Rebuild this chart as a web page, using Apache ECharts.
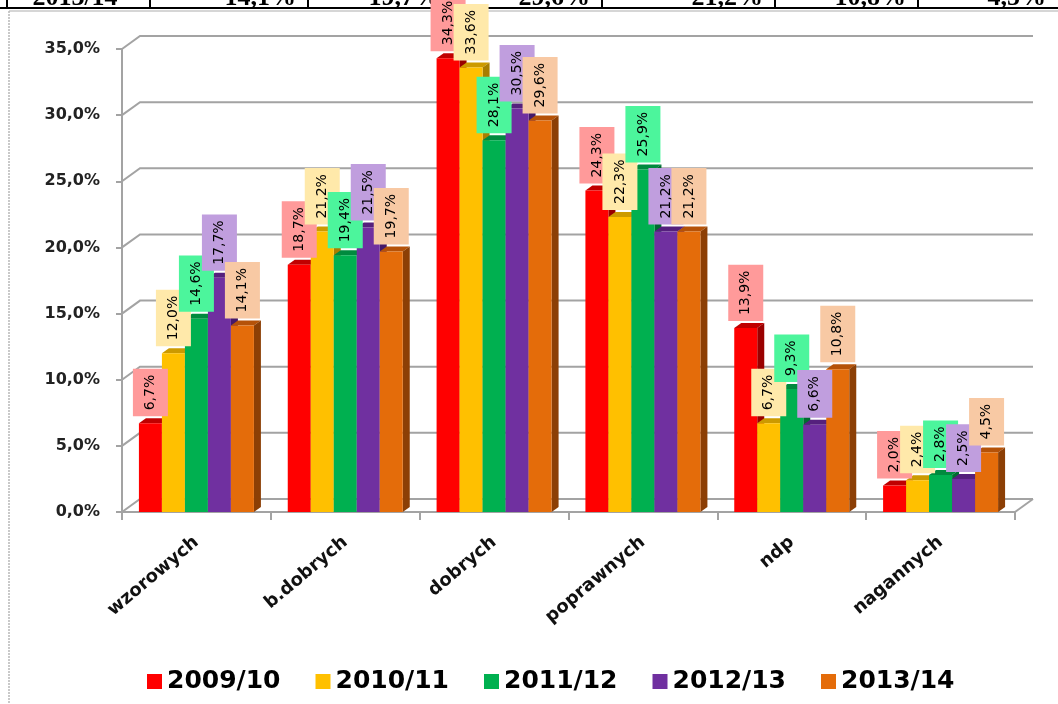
<!DOCTYPE html>
<html>
<head>
<meta charset="utf-8">
<script src="https://cdn.jsdelivr.net/npm/echarts@6/dist/echarts.min.js"></script>
<style>
  html, body { margin: 0; padding: 0; background: #fff; }
  #chart { width: 1058px; height: 704px; }
</style>
</head>
<body>
<div id="chart"></div>
<script>
var categories = ["wzorowych", "b.dobrych", "dobrych", "poprawnych", "ndp", "nagannych"];
var years = ["2009/10", "2010/11", "2011/12", "2012/13", "2013/14"];
var y2009 = [6.7, 18.7, 34.3, 24.3, 13.9, 2.0];
var y2010 = [12.0, 21.2, 33.6, 22.3, 6.7, 2.4];
var y2011 = [14.6, 19.4, 28.1, 25.9, 9.3, 2.8];
var y2012 = [17.7, 21.5, 30.5, 21.2, 6.6, 2.5];
var y2013 = [14.1, 19.7, 29.6, 21.2, 10.8, 4.5];
var yTicks = [0, 5, 10, 15, 20, 25, 30, 35];

var allValues = [y2009, y2010, y2011, y2012, y2013];
var barColors = ["#ff0000", "#ffc000", "#00b050", "#7030a0", "#e46c0a"];
var topColors = ["#c00000", "#cc9a00", "#008a3e", "#55207d", "#b55208"];
var sideColors = ["#9a0000", "#a87e00", "#006c30", "#44196a", "#8c3f05"];
var labelBg = ["#ff9a9a", "#ffe9aa", "#4cf59c", "#c09ede", "#f8c9a4"];

var BAR_W = 23;
var DEPTH_X = 7, DEPTH_Y = 5;
var WALL_X = 18, WALL_Y = 13;

function pct(v) {
  return v.toFixed(1).replace(".", ",") + "%";
}

var myChart = echarts.init(document.getElementById("chart"));

// tylna sciana + podloga (pseudo 3D)
function renderWall(params, api) {
  var v = api.value(1);
  var cs = params.coordSys;
  var y = api.coord([0, v])[1];
  var x0 = cs.x, x1 = cs.x + cs.width;
  var kids = [{
    type: "polyline",
    shape: { points: [[x0, y], [x0 + WALL_X, y - WALL_Y], [x1 + WALL_X, y - WALL_Y]] },
    style: { stroke: "#a3a3a3", lineWidth: 2, fill: null }
  }];
  if (v === 0) {
    kids.push({
      type: "line",
      shape: { x1: x1, y1: y, x2: x1 + WALL_X, y2: y - WALL_Y },
      style: { stroke: "#a3a3a3", lineWidth: 2 }
    });
  }
  return { type: "group", children: kids };
}

// gorna i boczna sciana slupka
function makeFaces(i) {
  return function (params, api) {
    var c = api.value(0), v = api.value(1);
    var p = api.coord([c, v]);
    var base = api.coord([c, 0])[1];
    var cx = p[0] + (i - 2) * BAR_W;
    var l = cx - BAR_W / 2, r = cx + BAR_W / 2, t = p[1];
    return {
      type: "group",
      children: [
        {
          type: "polygon",
          shape: { points: [[l, t], [r, t], [r + DEPTH_X, t - DEPTH_Y], [l + DEPTH_X, t - DEPTH_Y]] },
          style: { fill: topColors[i] }
        },
        {
          type: "polygon",
          shape: { points: [[r, t], [r + DEPTH_X, t - DEPTH_Y], [r + DEPTH_X, base - DEPTH_Y], [r, base]] },
          style: { fill: sideColors[i] }
        }
      ]
    };
  };
}

var series = [{
  type: "custom",
  z: 1,
  silent: true,
  renderItem: renderWall,
  encode: { x: 0, y: 1 },
  data: yTicks.map(function (v) { return [0, v]; })
}];

allValues.forEach(function (vals, i) {
  series.push({
    type: "custom",
    z: 2,
    silent: true,
    renderItem: makeFaces(i),
    encode: { x: 0, y: 1 },
    data: vals.map(function (v, c) { return [c, v]; })
  });
});

allValues.forEach(function (vals, i) {
  series.push({
    name: years[i],
    type: "bar",
    z: 3,
    barWidth: BAR_W,
    barGap: "0%",
    itemStyle: { color: barColors[i] },
    label: {
      show: true,
      position: "top",
      distance: 7,
      rotate: 90,
      align: "left",
      verticalAlign: "middle",
      color: "#000",
      fontFamily: "DejaVu Sans",
      fontSize: 14,
      lineHeight: 17,
      backgroundColor: labelBg[i],
      padding: [9, 6, 9, 6],
      formatter: function (p) { return pct(p.value); }
    },
    data: vals
  });
});

// fragment tabeli nad wykresem (wiersz 2013/14)
var colEdges = [7, 150, 308, 452, 602, 775, 918, 1058];
var tableTexts = [{
  type: "text", x: 75, y: 11,
  style: { text: years[4], font: "bold 26px 'Liberation Serif'", fill: "#000", align: "center", verticalAlign: "bottom" }
}];
y2013.forEach(function (v, k) {
  tableTexts.push({
    type: "text", x: colEdges[k + 2] - 12, y: 11,
    style: { text: pct(v), font: "bold 26px 'Liberation Serif'", fill: "#000", align: "right", verticalAlign: "bottom" }
  });
});
var tableLines = [
  { type: "rect", shape: { x: 0, y: 8, width: 1058, height: 20 }, style: { fill: "#fff" } },
  { type: "line", shape: { x1: 0, y1: 8, x2: 1058, y2: 8 }, style: { stroke: "#000", lineWidth: 2 } }
];
colEdges.slice(0, 7).forEach(function (x) {
  tableLines.push({ type: "line", shape: { x1: x, y1: 0, x2: x, y2: 8 }, style: { stroke: "#000", lineWidth: 2 } });
});

myChart.setOption({
  backgroundColor: "#fff",
  animation: false,
  graphic: tableTexts.concat(tableLines).concat([
    { type: "line", shape: { x1: 9, y1: 11, x2: 1058, y2: 11 }, style: { stroke: "#c8c8c8", lineWidth: 1.5 } },
    { type: "line", shape: { x1: 9, y1: 11, x2: 9, y2: 704 }, style: { stroke: "#b8b8b8", lineWidth: 1.5, lineDash: [2, 1] } }
  ]),
  legend: {
    data: years,
    left: 142,
    top: 664,
    icon: "rect",
    itemWidth: 15,
    itemHeight: 15,
    itemGap: 35,
    textStyle: { color: "#000", fontFamily: "DejaVu Sans", fontWeight: "bold", fontSize: 25 }
  },
  grid: { left: 122, right: 43, top: 49, bottom: 192 },
  xAxis: {
    type: "category",
    data: categories,
    axisLine: { lineStyle: { color: "#a3a3a3", width: 2 } },
    axisTick: { show: true, length: 8, lineStyle: { color: "#a3a3a3", width: 2 } },
    axisLabel: {
      rotate: 40,
      margin: 28,
      color: "#111",
      fontFamily: "DejaVu Sans",
      fontWeight: "bold",
      fontSize: 18
    }
  },
  yAxis: {
    type: "value",
    min: 0,
    max: 35,
    interval: 5,
    axisLine: { show: true, lineStyle: { color: "#a3a3a3", width: 2 } },
    axisTick: { show: true, length: 6, lineStyle: { color: "#a3a3a3", width: 2 } },
    splitLine: { show: false },
    axisLabel: {
      margin: 22,
      color: "#222",
      fontFamily: "DejaVu Sans",
      fontWeight: "bold",
      fontSize: 16,
      formatter: function (v) { return pct(v); }
    }
  },
  series: series
});
</script>
</body>
</html>
